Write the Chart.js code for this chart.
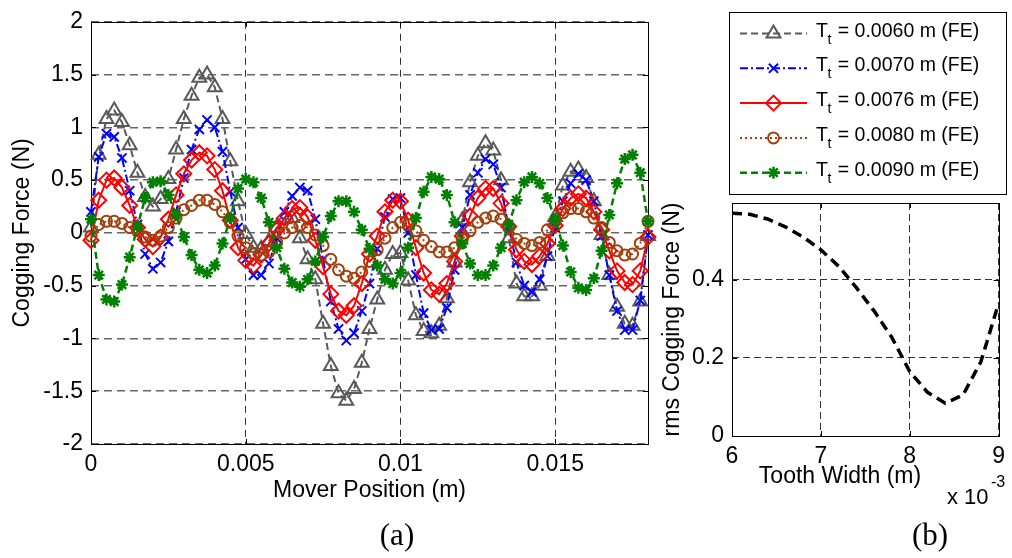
<!DOCTYPE html>
<html>
<head>
<meta charset="utf-8">
<title>Cogging force</title>
<script src="https://cdn.jsdelivr.net/npm/chart.js"></script>
<style>
  body { margin: 0; background: #fff; }
  #wrap { position: relative; width: 1012px; height: 558px; overflow: hidden; background: #fff; }
  #wrap canvas { position: absolute; left: 0; top: 0; }
</style>
</head>
<body>
<div id="wrap">
  <canvas id="forceChart" width="1012" height="558"></canvas>
  <canvas id="rmsChart" width="1012" height="558"></canvas>
</div>
<script>
// Mover position (m) of the FE samples
const moverPosition = [
  0, 0.00025, 0.0005, 0.00075, 0.001, 0.00125, 0.0015, 0.00175,
  0.002, 0.00225, 0.0025, 0.00275, 0.003, 0.00325, 0.0035, 0.00375,
  0.004, 0.00425, 0.0045, 0.00475, 0.005, 0.00525, 0.0055, 0.00575,
  0.006, 0.00625, 0.0065, 0.00675, 0.007, 0.00725, 0.0075, 0.00775,
  0.008, 0.00825, 0.0085, 0.00875, 0.009, 0.00925, 0.0095, 0.00975,
  0.01, 0.01025, 0.0105, 0.01075, 0.011, 0.01125, 0.0115, 0.01175,
  0.012, 0.01225, 0.0125, 0.01275, 0.013, 0.01325, 0.0135, 0.01375,
  0.014, 0.01425, 0.0145, 0.01475, 0.015, 0.01525, 0.0155, 0.01575,
  0.016, 0.01625, 0.0165, 0.01675, 0.017, 0.01725, 0.0175, 0.01775,
  0.018
];

// Cogging force (N) for each tooth width
const force0060 = [
  0.05, 0.74, 1.08, 1.16, 1.05, 0.83, 0.57, 0.34,
  0.25, 0.32, 0.51, 0.79, 1.08, 1.30, 1.47, 1.50,
  1.38, 1.08, 0.68, 0.30, -0.01, -0.14, -0.15, -0.08,
  0.05, 0.13, 0.14, -0.05, -0.25, -0.44, -0.86, -1.26,
  -1.52, -1.59, -1.48, -1.23, -0.91, -0.63, -0.35, -0.20,
  -0.19, -0.45, -0.78, -0.93, -0.95, -0.88, -0.62, -0.28,
  0.12, 0.48, 0.73, 0.85, 0.78, 0.50, -0.05, -0.48,
  -0.60, -0.60, -0.50, -0.22, 0.15, 0.45, 0.58, 0.60,
  0.52, 0.30, -0.02, -0.40, -0.70, -0.86, -0.88, -0.65,
  -0.03
];
const force0070 = [
  0.20, 0.72, 0.94, 0.91, 0.71, 0.40, 0.08, -0.20,
  -0.34, -0.28, -0.08, 0.20, 0.52, 0.79, 0.98, 1.07,
  1.00, 0.77, 0.39, 0.05, -0.25, -0.40, -0.40, -0.29,
  -0.05, 0.20, 0.35, 0.43, 0.40, 0.13, -0.25, -0.65,
  -0.91, -1.02, -0.95, -0.74, -0.48, -0.15, 0.15, 0.32,
  0.33, 0.00, -0.40, -0.76, -0.92, -0.91, -0.71, -0.35,
  0.05, 0.36, 0.57, 0.70, 0.65, 0.43, 0.05, -0.28,
  -0.50, -0.56, -0.44, -0.22, 0.05, 0.30, 0.47, 0.56,
  0.50, 0.30, -0.03, -0.40, -0.74, -0.92, -0.92, -0.64,
  -0.02
];
const force0076 = [
  -0.07, 0.31, 0.50, 0.52, 0.43, 0.26, 0.05, -0.06,
  -0.13, -0.04, 0.13, 0.36, 0.56, 0.69, 0.76, 0.73,
  0.60, 0.40, 0.12, -0.14, -0.26, -0.31, -0.21, -0.10,
  0.03, 0.14, 0.23, 0.24, 0.15, -0.07, -0.32, -0.58,
  -0.74, -0.78, -0.69, -0.48, -0.20, -0.03, 0.20, 0.31,
  0.30, 0.12, -0.14, -0.38, -0.54, -0.58, -0.48, -0.27,
  -0.03, 0.16, 0.33, 0.42, 0.42, 0.28, 0.06, -0.16,
  -0.27, -0.30, -0.22, -0.10, 0.07, 0.23, 0.33, 0.37,
  0.33, 0.20, 0.03, -0.17, -0.36, -0.47, -0.49, -0.36,
  -0.04
];
const force0080 = [
  -0.03, 0.08, 0.11, 0.11, 0.09, 0.05, 0.02, -0.04,
  -0.07, -0.03, 0.05, 0.14, 0.22, 0.26, 0.31, 0.31,
  0.27, 0.20, 0.10, -0.03, -0.14, -0.20, -0.21, -0.18,
  -0.09, 0.00, 0.05, 0.07, 0.05, -0.02, -0.12, -0.25,
  -0.35, -0.41, -0.43, -0.37, -0.27, -0.16, -0.05, 0.05,
  0.10, 0.08, 0.02, -0.07, -0.13, -0.18, -0.18, -0.14,
  -0.06, 0.02, 0.10, 0.14, 0.16, 0.13, 0.05, -0.06,
  -0.10, -0.12, -0.09, 0.03, 0.11, 0.19, 0.23, 0.23,
  0.20, 0.14, 0.05, -0.09, -0.17, -0.21, -0.20, -0.10,
  0.11
];
const force0090 = [
  0.13, -0.40, -0.63, -0.65, -0.49, -0.23, 0.06, 0.33,
  0.48, 0.49, 0.36, 0.17, -0.04, -0.21, -0.35, -0.38,
  -0.31, -0.10, 0.14, 0.42, 0.51, 0.48, 0.33, 0.10,
  -0.14, -0.34, -0.47, -0.51, -0.44, -0.27, -0.04, 0.16,
  0.30, 0.30, 0.20, 0.03, -0.15, -0.31, -0.44, -0.48,
  -0.38, -0.14, 0.14, 0.39, 0.53, 0.51, 0.36, 0.10,
  -0.10, -0.29, -0.40, -0.40, -0.31, -0.14, 0.08, 0.31,
  0.48, 0.53, 0.47, 0.33, 0.13, -0.12, -0.37, -0.52,
  -0.54, -0.43, -0.17, 0.17, 0.47, 0.70, 0.74, 0.57,
  0.11
];
const toothLabels = ['0.0060', '0.0070', '0.0076', '0.0080', '0.0090'];

// Tooth width sweep (m) and rms cogging force (N)
const toothWidth = [0.0060, 0.0062, 0.0064, 0.0066, 0.0068, 0.0070, 0.0072, 0.0074,
                    0.0076, 0.0078, 0.0080, 0.0082, 0.0084, 0.0086, 0.0088, 0.0090];
const rmsForce = [0.571, 0.568, 0.556, 0.536, 0.510, 0.477, 0.435, 0.380,
                  0.320, 0.252, 0.165, 0.112, 0.084, 0.105, 0.190, 0.340];

// tick values
const forceTicksX = [0, 0.005, 0.01, 0.015];
const forceTicksY = [-2, -1.5, -1, -0.5, 0, 0.5, 1, 1.5, 2];
const widthTicksX = [0.006, 0.007, 0.008, 0.009];
const rmsTicksY = [0, 0.2, 0.4];

const SANS = '"Liberation Sans", Arial, Helvetica, sans-serif';
const SERIF = '"Liberation Serif", "Times New Roman", serif';
Chart.defaults.font.family = SANS;
Chart.defaults.color = '#000';

const styles = [
  { color: '#595959', dash: [7, 4], point: 'triangle', radius: 8, width: 2 },
  { color: '#0000ff', dash: [8, 3, 2, 3], point: 'crossRot', radius: 6.5, width: 2 },
  { color: '#ff0000', dash: [], point: 'rectRot', radius: 7.5, width: 2 },
  { color: '#a0410d', dash: [2, 3], point: 'circle', radius: 5.5, width: 2 },
  { color: '#008000', dash: [7, 4], point: 'star', radius: 6, width: 2.5 }
];
const forces = [force0060, force0070, force0076, force0080, force0090];

const datasets = forces.map((f, k) => ({
  label: 'Tt = ' + toothLabels[k] + ' m (FE)',
  data: moverPosition.map((x, i) => ({ x: x, y: f[i] })),
  borderColor: styles[k].color,
  borderWidth: styles[k].width,
  borderDash: styles[k].dash,
  pointStyle: styles[k].point,
  pointRadius: styles[k].radius,
  pointBorderColor: styles[k].color,
  pointBackgroundColor: 'rgba(0,0,0,0)',
  pointBorderWidth: k === 4 ? 2.5 : 2,
  tension: 0,
  clip: false,
  order: forces.length - 1 - k
}));

function setTicks(values) {
  return scale => { scale.ticks = values.map(v => ({ value: v })); };
}

// black frame round the plot area with small inward ticks
const axesBox = {
  id: 'axesBox',
  beforeDatasetsDraw(chart) {
    const { ctx, chartArea: a, scales } = chart;
    const x = scales.x, y = scales.y;
    ctx.save();
    ctx.setLineDash([]);
    ctx.strokeStyle = '#000';
    ctx.lineWidth = 1;
    ctx.beginPath();
    x.ticks.forEach(t => {
      const px = Math.round(x.getPixelForValue(t.value)) + 0.5;
      ctx.moveTo(px, a.bottom); ctx.lineTo(px, a.bottom - 5);
      ctx.moveTo(px, a.top); ctx.lineTo(px, a.top + 5);
    });
    y.ticks.forEach(t => {
      const py = Math.round(y.getPixelForValue(t.value)) + 0.5;
      ctx.moveTo(a.left, py); ctx.lineTo(a.left + 5, py);
      ctx.moveTo(a.right, py); ctx.lineTo(a.right - 5, py);
    });
    ctx.stroke();
    ctx.strokeRect(Math.round(a.left) + 0.5, Math.round(a.top) + 0.5,
                   Math.round(a.right - a.left), Math.round(a.bottom - a.top));
    ctx.restore();
  }
};

// legend box with subscripted labels
const toothLegend = {
  id: 'toothLegend',
  afterDraw(chart) {
    const ctx = chart.ctx;
    ctx.save();
    ctx.setLineDash([]);
    ctx.strokeStyle = '#000';
    ctx.lineWidth = 1;
    ctx.strokeRect(729.5, 12.5, 277, 182);
    chart.data.datasets.forEach((ds, i) => {
      const y = 33.5 + i * 34.8;
      ctx.strokeStyle = ds.borderColor;
      ctx.lineWidth = ds.borderWidth;
      ctx.setLineDash(ds.borderDash);
      ctx.beginPath();
      ctx.moveTo(740, y);
      ctx.lineTo(807, y);
      ctx.stroke();
      ctx.setLineDash([]);
      ctx.lineWidth = ds.pointBorderWidth;
      ctx.fillStyle = 'rgba(0,0,0,0)';
      Chart.helpers.drawPoint(ctx, {
        pointStyle: ds.pointStyle, radius: ds.pointRadius,
        rotation: 0, borderWidth: ds.pointBorderWidth
      }, 773.5, y);

      ctx.fillStyle = '#000';
      ctx.textBaseline = 'alphabetic';
      ctx.textAlign = 'left';
      ctx.font = '19.5px ' + SANS;
      ctx.fillText('T', 816, y + 3);
      const tw = ctx.measureText('T').width;
      ctx.font = '14px ' + SANS;
      ctx.fillText('t', 816 + tw - 0.5, y + 10);
      const sw = ctx.measureText('t').width;
      ctx.font = '19.5px ' + SANS;
      ctx.fillText('= ' + toothLabels[i] + ' m (FE)', 816 + tw + sw + 6, y + 3);
    });
    ctx.restore();
  }
};

// free text under / beside the axes
function textPlugin(id, items) {
  return {
    id: id,
    afterDraw(chart) {
      const ctx = chart.ctx;
      ctx.save();
      ctx.fillStyle = '#000';
      items.forEach(it => {
        ctx.font = it.font;
        ctx.textAlign = it.align || 'left';
        ctx.textBaseline = it.baseline || 'alphabetic';
        ctx.fillText(it.text, it.x, it.y);
      });
      ctx.restore();
    }
  };
}

const tickFont = { size: 23 };

new Chart(document.getElementById('forceChart'), {
  type: 'line',
  data: { datasets: datasets },
  options: {
    responsive: false,
    animation: false,
    devicePixelRatio: 1,
    layout: { padding: { left: 0, top: 15, right: 364, bottom: 54 } },
    plugins: { legend: { display: false }, tooltip: { enabled: false } },
    scales: {
      x: {
        type: 'linear', min: 0, max: 0.018,
        afterBuildTicks: setTicks(forceTicksX),
        afterFit: s => { s.height = 60; },
        grid: { color: '#333', lineWidth: 1, drawTicks: false },
        border: { display: false, dash: [7, 5] },
        ticks: { font: tickFont, color: '#000', padding: 7, maxRotation: 0,
                 callback: v => String(v) },
        title: { display: true, text: 'Mover Position (m)', font: tickFont,
                 color: '#000', padding: 0 }
      },
      y: {
        type: 'linear', min: -2, max: 2,
        afterBuildTicks: setTicks(forceTicksY),
        afterFit: s => { s.width = 91; },
        grid: { color: '#666', lineWidth: 1.5, drawTicks: false },
        border: { display: false, dash: [8, 5] },
        ticks: { font: tickFont, color: '#000', padding: 8,
                 callback: v => String(v) },
        title: { display: true, text: 'Cogging Force (N)', font: tickFont,
                 color: '#000', padding: { top: 9, bottom: 0 } }
      }
    }
  },
  plugins: [axesBox, toothLegend, textPlugin('captionA', [
    { text: '(a)', x: 397, y: 537, font: '31px ' + SERIF, align: 'center', baseline: 'middle' }
  ])]
});

new Chart(document.getElementById('rmsChart'), {
  type: 'line',
  data: {
    datasets: [{
      label: 'rms',
      data: toothWidth.map((w, i) => ({ x: w, y: rmsForce[i] })),
      borderColor: '#000',
      borderWidth: 3.5,
      borderDash: [10, 6],
      pointRadius: 0,
      tension: 0
    }]
  },
  options: {
    responsive: false,
    animation: false,
    devicePixelRatio: 1,
    layout: { padding: { left: 655, top: 203, right: 7, bottom: 62 } },
    plugins: { legend: { display: false }, tooltip: { enabled: false } },
    scales: {
      x: {
        type: 'linear', min: 0.006, max: 0.009,
        afterBuildTicks: setTicks(widthTicksX),
        afterFit: s => { s.height = 60; },
        grid: { color: '#333', lineWidth: 1, drawTicks: false },
        border: { display: false, dash: [7, 4] },
        ticks: { font: tickFont, color: '#000', padding: 7, maxRotation: 0,
                 callback: v => String(Math.round(v * 1000)) },
        title: { display: false }
      },
      y: {
        type: 'linear', min: 0, max: 0.597,
        afterBuildTicks: setTicks(rmsTicksY),
        afterFit: s => { s.width = 77; },
        grid: { color: '#333', lineWidth: 1, drawTicks: false },
        border: { display: false, dash: [7, 4] },
        ticks: { font: tickFont, color: '#000', padding: 8,
                 callback: v => (v === 0 ? '0' : v.toFixed(1)) },
        title: { display: true, text: 'rms Cogging Force (N)', font: tickFont,
                 color: '#000', padding: { top: 4, bottom: 0 } }
      }
    }
  },
  plugins: [axesBox, textPlugin('captionB', [
    // axis title sits left of centre, leaving room for the exponent
    { text: 'Tooth Width (m)', x: 840, y: 477, font: '23px ' + SANS, align: 'center', baseline: 'middle' },
    { text: 'x 10', x: 947, y: 504, font: '22px ' + SANS },
    { text: '-3', x: 991, y: 487, font: '16px ' + SANS },
    { text: '(b)', x: 930, y: 537, font: '31px ' + SERIF, align: 'center', baseline: 'middle' }
  ])]
});
</script>
</body>
</html>
